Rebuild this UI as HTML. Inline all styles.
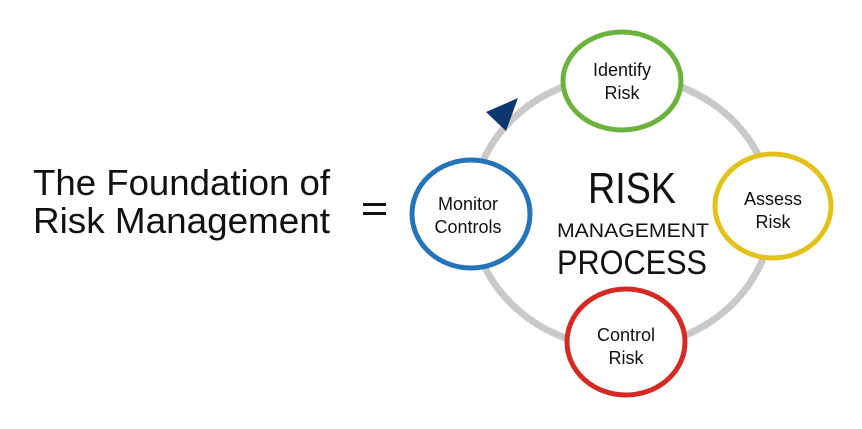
<!DOCTYPE html>
<html><head><style>html,body{margin:0;padding:0;background:#fff}svg{display:block}</style></head>
<body>
<svg width="862" height="429" viewBox="0 0 862 429" xmlns="http://www.w3.org/2000/svg" font-family="'Liberation Sans',sans-serif">
<ellipse cx="622" cy="212" rx="150" ry="136" fill="none" stroke="#c9c9c9" stroke-width="7"/>
<polygon points="518,98 486,112 506,131" fill="#0d3a6e"/>
<g fill="#fff" stroke-width="5">
<ellipse cx="622" cy="81" rx="59" ry="49" stroke="#6cb33e"/>
<ellipse cx="471" cy="214" rx="59" ry="54" stroke="#2573b8"/>
<ellipse cx="773" cy="206" rx="58" ry="52" stroke="#e2c21a"/>
<ellipse cx="626" cy="342" rx="59" ry="53" stroke="#d42a23"/>
</g>
<g font-size="18" fill="#111" text-anchor="middle">
<text x="622" y="76">Identify</text><text x="622" y="99">Risk</text>
<text x="468" y="210">Monitor</text><text x="468" y="233">Controls</text>
<text x="773" y="205">Assess</text><text x="773" y="228">Risk</text>
<text x="626" y="341">Control</text><text x="626" y="364">Risk</text>
</g>
<g fill="#111" text-anchor="middle">
<text x="632" y="203" font-size="44" textLength="88" lengthAdjust="spacingAndGlyphs">RISK</text>
<text x="633" y="237" font-size="19" textLength="152" lengthAdjust="spacingAndGlyphs">MANAGEMENT</text>
<text x="632" y="274" font-size="34" textLength="150" lengthAdjust="spacingAndGlyphs">PROCESS</text>
<text x="33" y="195" font-size="36" text-anchor="start" textLength="297" lengthAdjust="spacingAndGlyphs">The Foundation of</text>
<text x="33" y="233" font-size="36" text-anchor="start" textLength="297" lengthAdjust="spacingAndGlyphs">Risk Management</text>
</g>
<rect x="363" y="203" width="23" height="3" fill="#111"/>
<rect x="363" y="212" width="23" height="3" fill="#111"/>
</svg>
</body></html>
